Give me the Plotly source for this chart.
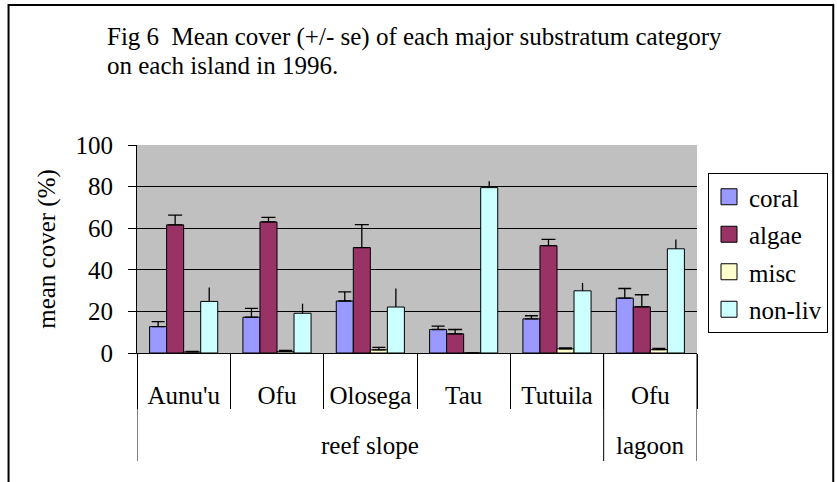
import plotly.graph_objects as go

islands = ["Aunu'u", "Ofu", "Olosega", "Tau", "Tutuila", "Ofu"]
habitats = ["reef slope", "reef slope", "reef slope", "reef slope", "reef slope", "lagoon"]

coral = [12.7, 17.2, 25.0, 11.3, 16.4, 26.4]
coral_se = [2.4, 4.3, 4.4, 1.6, 1.5, 4.6]
algae = [61.6, 63.0, 50.7, 9.2, 51.6, 22.2]
algae_se = [4.7, 2.2, 11.0, 2.1, 3.0, 5.8]
misc = [0.5, 0.8, 1.5, 0.0, 2.0, 1.6]
misc_se = [0.3, 0.4, 1.2, 0.0, 0.4, 0.6]
nonliv = [24.8, 19.1, 22.1, 79.5, 29.9, 50.1]
nonliv_se = [6.7, 4.6, 8.9, 3.1, 3.8, 4.5]

series = [
    ("coral", coral, coral_se, "#9999FF", 6.5),
    ("algae", algae, algae_se, "#993366", 7),
    ("misc", misc, misc_se, "#FFFFCC", 6.5),
    ("non-liv", nonliv, nonliv_se, "#CCFFFF", 0),
]

FONT = "Liberation Serif"
FS = 25
pos = list(range(len(islands)))

fig = go.Figure()
for name, vals, se, color, capw in series:
    fig.add_trace(go.Bar(
        name=name,
        x=pos,
        y=vals,
        marker=dict(color=color, line=dict(color="black", width=1)),
        error_y=dict(type="data", array=se, arrayminus=[0] * len(se), symmetric=False,
                     color="black", thickness=1.3, width=capw),
        showlegend=False,
        legendgroup=name,
    ))
# legend keys (square swatches)
for name, vals, se, color, capw in series:
    fig.add_trace(go.Scatter(
        name=name, x=[None], y=[None], mode="markers",
        marker=dict(symbol="square", size=16, color=color, line=dict(color="black", width=1)),
        legendgroup=name, showlegend=True,
    ))

L, R, T, B = 136.5, 140.3, 145, 129
W, H = 837, 482
pw = W - L - R
ph = H - T - B

def px2x(x):
    return (x - L) / pw

def px2y(y):
    return (H - B - y) / ph

boundaries = [p - 0.5 for p in pos] + [pos[-1] + 0.5]

fig.update_layout(
    width=W, height=H,
    margin=dict(l=L, r=R, t=T, b=B, pad=0, autoexpand=False),
    paper_bgcolor="white",
    plot_bgcolor="#C0C0C0",
    barmode="group",
    bargap=0.27,
    bargroupgap=0,
    font=dict(family=FONT, size=FS, color="black"),
    showlegend=True,
    legend=dict(
        xref="container", yref="container",
        x=708 / W, y=1 - 173 / H, xanchor="left", yanchor="top",
        bordercolor="black", borderwidth=1, bgcolor="white",
        font=dict(family=FONT, size=FS, color="black"),
        tracegroupgap=2, itemwidth=30, itemsizing="trace",
    ),
    xaxis=dict(
        range=[-0.5, len(islands) - 0.5],
        tickmode="array", tickvals=pos, ticktext=islands,
        showline=True, linecolor="black", linewidth=1,
        ticks="", ticklabelstandoff=20,
        minor=dict(tickmode="array", tickvals=boundaries, ticks="outside", ticklen=55,
                   tickcolor="black", tickwidth=1, showgrid=False),
        tickfont=dict(family=FONT, size=FS, color="black"),
        showgrid=False, zeroline=False,
    ),
    yaxis=dict(
        range=[0, 100], dtick=20,
        showline=True, linecolor="black", linewidth=1,
        ticks="outside", ticklen=8, tickcolor="black",
        showgrid=True, gridcolor="black", gridwidth=1,
        tickfont=dict(family=FONT, size=FS, color="black"),
        ticklabelstandoff=10,
        title=dict(text="mean cover (%)", font=dict(family=FONT, size=FS), standoff=12),
        zeroline=False,
    ),
)

# group (habitat) labels and dividers below the island labels
groups = []
for i, h in enumerate(habitats):
    if not groups or groups[-1][0] != h:
        groups.append([h, i, i])
    else:
        groups[-1][2] = i
for h, i0, i1 in groups:
    fig.add_annotation(text=h, x=(i0 + i1) / 2, xref="x", y=px2y(445), yref="paper",
                       showarrow=False, xanchor="center", yanchor="middle",
                       font=dict(family=FONT, size=FS, color="black"))
    fig.add_shape(type="line", xref="x", yref="paper", x0=i0 - 0.5, x1=i0 - 0.5,
                  y0=0, y1=px2y(461), line=dict(color="black", width=1))
fig.add_shape(type="line", xref="x", yref="paper", x0=pos[-1] + 0.5, x1=pos[-1] + 0.5,
              y0=0, y1=px2y(461), line=dict(color="black", width=1))

# outer frame of the chart area
fig.add_shape(type="rect", xref="paper", yref="paper",
              x0=px2x(8), x1=px2x(833), y0=px2y(520), y1=px2y(5),
              line=dict(color="black", width=2), fillcolor="rgba(0,0,0,0)", layer="above")

title_lines = ["Fig 6  Mean cover (+/- se) of each major substratum category",
               "on each island in 1996."]
for k, line in enumerate(title_lines):
    fig.add_annotation(
        text=line, xref="paper", yref="paper", x=px2x(104), y=px2y(21 + 29 * k),
        xanchor="left", yanchor="top", align="left", showarrow=False,
        font=dict(family=FONT, size=FS, color="black"),
    )

fig.write_html("out.html", config={"displayModeBar": False},
               post_script="document.body.style.margin='0';")
